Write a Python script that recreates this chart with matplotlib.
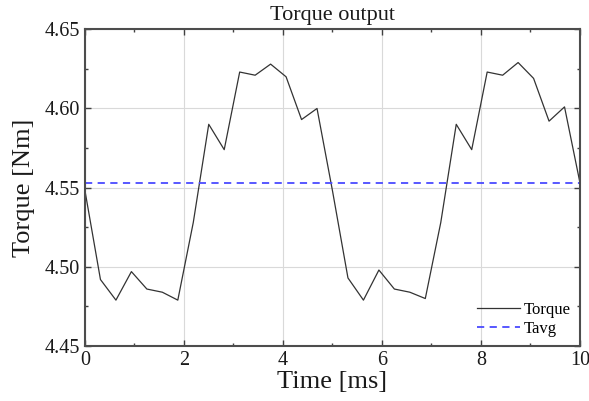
import numpy as np
import matplotlib
matplotlib.use("Agg")
import matplotlib.pyplot as plt
from matplotlib.ticker import MultipleLocator

# time samples [ms] and torque values [Nm]
t = [0.0, 0.3125, 0.625, 0.9375, 1.25, 1.5625, 1.875, 2.1875, 2.5, 2.8125,
     3.125, 3.4375, 3.75, 4.0625, 4.375, 4.6875, 5.0, 5.3125, 5.625, 5.9375,
     6.25, 6.5625, 6.875, 7.1875, 7.5, 7.8125, 8.125, 8.4375, 8.75, 9.0625,
     9.375, 9.6875, 10.0]
torque = [4.548, 4.492, 4.479, 4.497, 4.486, 4.484, 4.479, 4.528, 4.590, 4.574,
          4.623, 4.621, 4.628, 4.620, 4.593, 4.600, 4.548, 4.493, 4.479, 4.498,
          4.486, 4.484, 4.480, 4.528, 4.590, 4.574, 4.623, 4.621, 4.629, 4.619,
          4.592, 4.601, 4.553]
tavg = 4.553

plt.rcParams['font.family'] = ['Liberation Serif', 'DejaVu Serif']

fig = plt.figure(figsize=(5.89, 4.01), dpi=100)
ax = fig.add_axes([0.1443, 0.137, 0.8404, 0.790])

ax.plot(t, torque, color='0.2', lw=0.9, label='Torque')
ax.axhline(tavg, color='#4a4aff', lw=1.3, ls=(0, (4, 3)), label='Tavg')

ax.set_xlim(0, 10)
ax.set_ylim(4.45, 4.65)
ax.xaxis.set_major_locator(MultipleLocator(2))
ax.xaxis.set_minor_locator(MultipleLocator(1))
ax.yaxis.set_major_locator(MultipleLocator(0.05))
ax.yaxis.set_minor_locator(MultipleLocator(0.025))
ax.yaxis.set_major_formatter(matplotlib.ticker.FormatStrFormatter('%.2f'))
ax.tick_params(which='both', direction='in', top=True, right=True,
               colors='0.25', labelcolor='0.1', labelsize=14.5)
ax.tick_params(which='major', length=4, width=1)
ax.tick_params(which='minor', length=2, width=1)
ax.grid(True, which='major', color='0.85', lw=0.8)
for s in ax.spines.values():
    s.set_linewidth(1.5)
    s.set_color('0.3')

ax.set_title("Torque output", fontsize=16, color='0.1', pad=7)
ax.set_xlabel("Time [ms]", fontsize=19, color='0.1', labelpad=1)
ax.set_ylabel("Torque [Nm]", fontsize=19, color='0.1', labelpad=7)

ax.legend(loc='lower right', frameon=False, fontsize=12, handlelength=2.6,
          handletextpad=0.2, labelspacing=0.2, borderaxespad=0.15)

fig.savefig("out.png", dpi=100)
